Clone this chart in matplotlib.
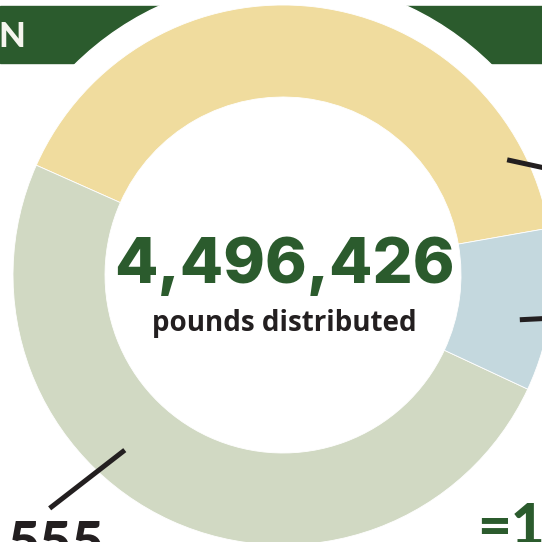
import matplotlib
matplotlib.use("Agg")
import matplotlib.pyplot as plt
from matplotlib.patches import Circle, Rectangle
import numpy as np

# ---- data ----
categories = ["Category A", "Category B", "Category C"]
pounds = [1823700, 2235555, 437171]
colors = ["#F0DC9E", "#D1D9C3", "#C4D8DE"]
total_label = "pounds distributed"
partial_left_label = "555"
partial_right_label = "=1"
header_fragment = "N"

DARK_GREEN = "#2B5B2D"
INK = "#231F20"

W = H = 542
fig = plt.figure(figsize=(5.42, 5.42), dpi=100)
ax = fig.add_axes([0, 0, 1, 1])

cx, cy = 283, 542 - 275
R_out, R_in = 270, 178
halo = 296

# header band
ax.add_patch(Rectangle((0, 542 - 63), W, 57, color=DARK_GREEN, zorder=1))
ax.add_patch(Circle((cx, cy), halo, color="white", zorder=2))

wedges, _ = ax.pie(pounds, colors=colors, startangle=10, counterclock=True,
                   center=(cx, cy), radius=R_out,
                   wedgeprops=dict(width=R_out - R_in, linewidth=0.6, edgecolor="white"),
                   frame=True)
for w in wedges:
    w.set_zorder(3)

# leader lines (angle deg, start radius, end radius)
leaders = [(27.2, 252, 300, 20.0), (-10.7, 241, 300, -8.0), (227.9, 236, 330, 225.0)]
for a0, r0, r1, a1 in leaders:
    x0 = cx + r0 * np.cos(np.radians(a0)); y0 = cy + r0 * np.sin(np.radians(a0))
    x1 = cx + r1 * np.cos(np.radians(a1)); y1 = cy + r1 * np.sin(np.radians(a1))
    ax.plot([x0, x1], [y0, y1], color=INK, lw=3.6, solid_capstyle="butt", zorder=4)

total = sum(pounds)
ax.text(284, 542 - 283, f"{total:,}", ha="center", va="baseline", color=DARK_GREEN,
        fontsize=45.5, fontweight=800, family="Inter", zorder=5)
ax.text(284, 542 - 331, total_label, ha="center", va="baseline", color=INK,
        fontsize=20, fontweight="bold", family="Open Sans", zorder=5)
ax.text(25, 542 - 47, header_fragment, ha="right", va="baseline", color="#F5F5EE",
        fontsize=25, fontweight="black", family="Lato", zorder=5)
ax.text(8, 542 - 520, partial_left_label, ha="left", va="top", color=INK,
        fontsize=40, fontweight="black", family="Lato", zorder=5)
ax.text(477, 542 - 502, partial_right_label, ha="left", va="top", color=DARK_GREEN,
        fontsize=42, fontweight="black", family="Lato", zorder=5)

ax.set_xlim(0, W)
ax.set_ylim(0, H)
ax.set_aspect("equal")
ax.axis("off")
fig.savefig("out.png", dpi=100, facecolor="white")
